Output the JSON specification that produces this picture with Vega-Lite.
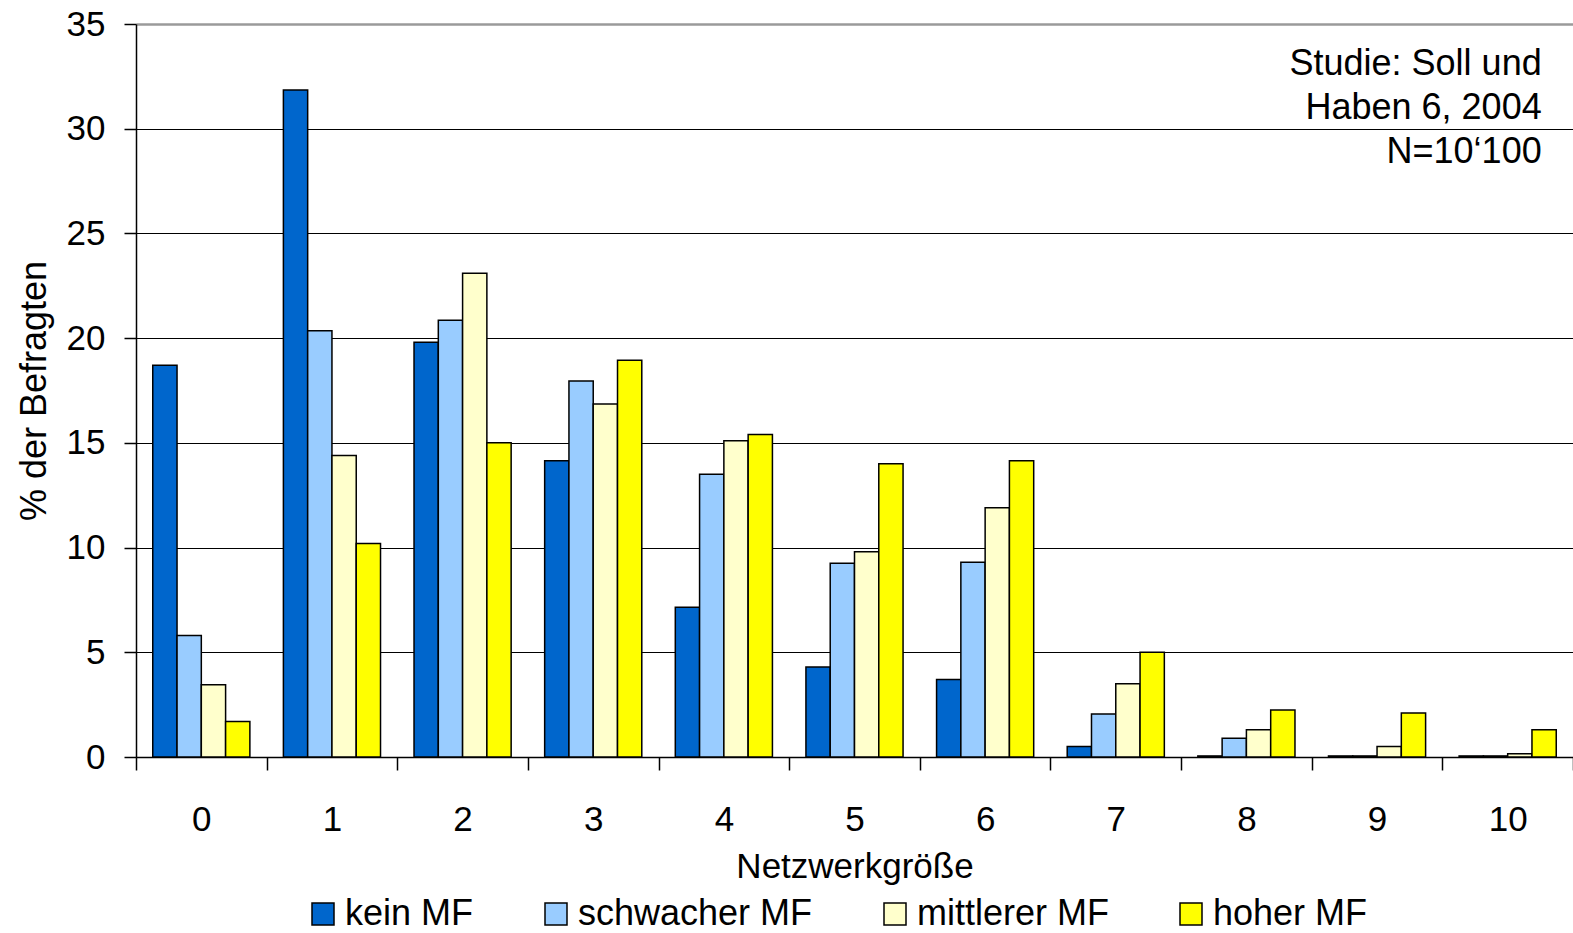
{
  "$schema": "https://vega.github.io/schema/vega-lite/v6.json",
  "width": 1437,
  "height": 733,
  "autosize": {"type": "none"},
  "padding": {"left": 136, "top": 24, "right": 0, "bottom": 176},
  "background": "white",
  "config": {
    "font": "Liberation Sans",
    "view": {"stroke": null},
    "axis": {
      "labelFont": "Liberation Sans",
      "titleFont": "Liberation Sans",
      "labelFontSize": 35,
      "titleFontSize": 35,
      "labelColor": "#000",
      "titleColor": "#000",
      "titleFontWeight": "normal",
      "domainColor": "#000",
      "tickColor": "#000",
      "domainWidth": 1.5,
      "tickWidth": 1.5
    },
    "legend": {
      "labelFont": "Liberation Sans",
      "labelFontSize": 36,
      "labelColor": "#000",
      "labelLimit": 400
    }
  },
  "datasets": {
    "umfrage": [
      {"n": "0", "gruppe": "kein MF", "wert": 18.7},
      {"n": "0", "gruppe": "schwacher MF", "wert": 5.8},
      {"n": "0", "gruppe": "mittlerer MF", "wert": 3.45},
      {"n": "0", "gruppe": "hoher MF", "wert": 1.7},
      {"n": "1", "gruppe": "kein MF", "wert": 31.85},
      {"n": "1", "gruppe": "schwacher MF", "wert": 20.35},
      {"n": "1", "gruppe": "mittlerer MF", "wert": 14.4},
      {"n": "1", "gruppe": "hoher MF", "wert": 10.2},
      {"n": "2", "gruppe": "kein MF", "wert": 19.8},
      {"n": "2", "gruppe": "schwacher MF", "wert": 20.85},
      {"n": "2", "gruppe": "mittlerer MF", "wert": 23.1},
      {"n": "2", "gruppe": "hoher MF", "wert": 15.0},
      {"n": "3", "gruppe": "kein MF", "wert": 14.15},
      {"n": "3", "gruppe": "schwacher MF", "wert": 17.95},
      {"n": "3", "gruppe": "mittlerer MF", "wert": 16.85},
      {"n": "3", "gruppe": "hoher MF", "wert": 18.95},
      {"n": "4", "gruppe": "kein MF", "wert": 7.15},
      {"n": "4", "gruppe": "schwacher MF", "wert": 13.5},
      {"n": "4", "gruppe": "mittlerer MF", "wert": 15.1},
      {"n": "4", "gruppe": "hoher MF", "wert": 15.4},
      {"n": "5", "gruppe": "kein MF", "wert": 4.3},
      {"n": "5", "gruppe": "schwacher MF", "wert": 9.25},
      {"n": "5", "gruppe": "mittlerer MF", "wert": 9.8},
      {"n": "5", "gruppe": "hoher MF", "wert": 14.0},
      {"n": "6", "gruppe": "kein MF", "wert": 3.7},
      {"n": "6", "gruppe": "schwacher MF", "wert": 9.3},
      {"n": "6", "gruppe": "mittlerer MF", "wert": 11.9},
      {"n": "6", "gruppe": "hoher MF", "wert": 14.15},
      {"n": "7", "gruppe": "kein MF", "wert": 0.5},
      {"n": "7", "gruppe": "schwacher MF", "wert": 2.05},
      {"n": "7", "gruppe": "mittlerer MF", "wert": 3.5},
      {"n": "7", "gruppe": "hoher MF", "wert": 5.0},
      {"n": "8", "gruppe": "kein MF", "wert": 0.05},
      {"n": "8", "gruppe": "schwacher MF", "wert": 0.9},
      {"n": "8", "gruppe": "mittlerer MF", "wert": 1.3},
      {"n": "8", "gruppe": "hoher MF", "wert": 2.25},
      {"n": "9", "gruppe": "kein MF", "wert": 0.05},
      {"n": "9", "gruppe": "schwacher MF", "wert": 0.05},
      {"n": "9", "gruppe": "mittlerer MF", "wert": 0.5},
      {"n": "9", "gruppe": "hoher MF", "wert": 2.1},
      {"n": "10", "gruppe": "kein MF", "wert": 0.05},
      {"n": "10", "gruppe": "schwacher MF", "wert": 0.05},
      {"n": "10", "gruppe": "mittlerer MF", "wert": 0.15},
      {"n": "10", "gruppe": "hoher MF", "wert": 1.3}
    ],
    "quelle": [
      {"n": "10", "zeile": "Studie: Soll und", "pos": 33.1},
      {"n": "10", "zeile": "Haben 6, 2004", "pos": 31.0},
      {"n": "10", "zeile": "N=10‘100", "pos": 28.9}
    ]
  },
  "layer": [
    {
      "data": {"name": "umfrage"},
      "mark": {"type": "bar", "stroke": "#000", "strokeWidth": 1.5},
      "encoding": {
        "x": {
          "field": "n",
          "type": "nominal",
          "sort": ["0", "1", "2", "3", "4", "5", "6", "7", "8", "9", "10"],
          "scale": {"paddingInner": 0, "paddingOuter": 0},
          "axis": {
            "title": "Netzwerkgröße",
            "labelAngle": 0,
            "tickBand": "extent",
            "tickSize": 13,
            "labelPadding": 32,
            "titlePadding": 12
          }
        },
        "xOffset": {
          "field": "gruppe",
          "type": "nominal",
          "sort": ["kein MF", "schwacher MF", "mittlerer MF", "hoher MF"],
          "scale": {"paddingInner": 0, "paddingOuter": 0.69}
        },
        "y": {
          "field": "wert",
          "type": "quantitative",
          "scale": {"domain": [0, 35], "nice": false},
          "axis": {
            "title": "% der Befragten",
            "titleFontSize": 36,
            "values": [0, 5, 10, 15, 20, 25, 30, 35],
            "tickSize": 12,
            "labelPadding": 19,
            "titlePadding": 13,
            "grid": true,
            "gridColor": {"condition": {"test": "datum.value === 35", "value": "#9a9a9a"}, "value": "#000"},
            "gridWidth": {"condition": {"test": "datum.value === 35", "value": 2.5}, "value": 1}
          }
        },
        "color": {
          "field": "gruppe",
          "type": "nominal",
          "sort": ["kein MF", "schwacher MF", "mittlerer MF", "hoher MF"],
          "scale": {
            "domain": ["kein MF", "schwacher MF", "mittlerer MF", "hoher MF"],
            "range": ["#0066cc", "#99ccff", "#ffffcc", "#ffff00"]
          },
          "legend": {
            "title": null,
            "orient": "none",
            "direction": "horizontal",
            "legendX": 169,
            "legendY": 872,
            "symbolType": "square",
            "symbolSize": 484,
            "symbolStrokeColor": "#000",
            "symbolStrokeWidth": 1.5,
            "symbolOpacity": 1,
            "labelOffset": 4,
            "columnPadding": 64
          }
        }
      }
    },
    {
      "data": {"name": "quelle"},
      "mark": {
        "type": "text",
        "align": "right",
        "baseline": "middle",
        "dx": 34,
        "fontSize": 36,
        "font": "Liberation Sans",
        "color": "#000"
      },
      "encoding": {
        "x": {"field": "n", "type": "nominal", "sort": ["0", "1", "2", "3", "4", "5", "6", "7", "8", "9", "10"]},
        "y": {"field": "pos", "type": "quantitative"},
        "text": {"field": "zeile"}
      }
    }
  ]
}
